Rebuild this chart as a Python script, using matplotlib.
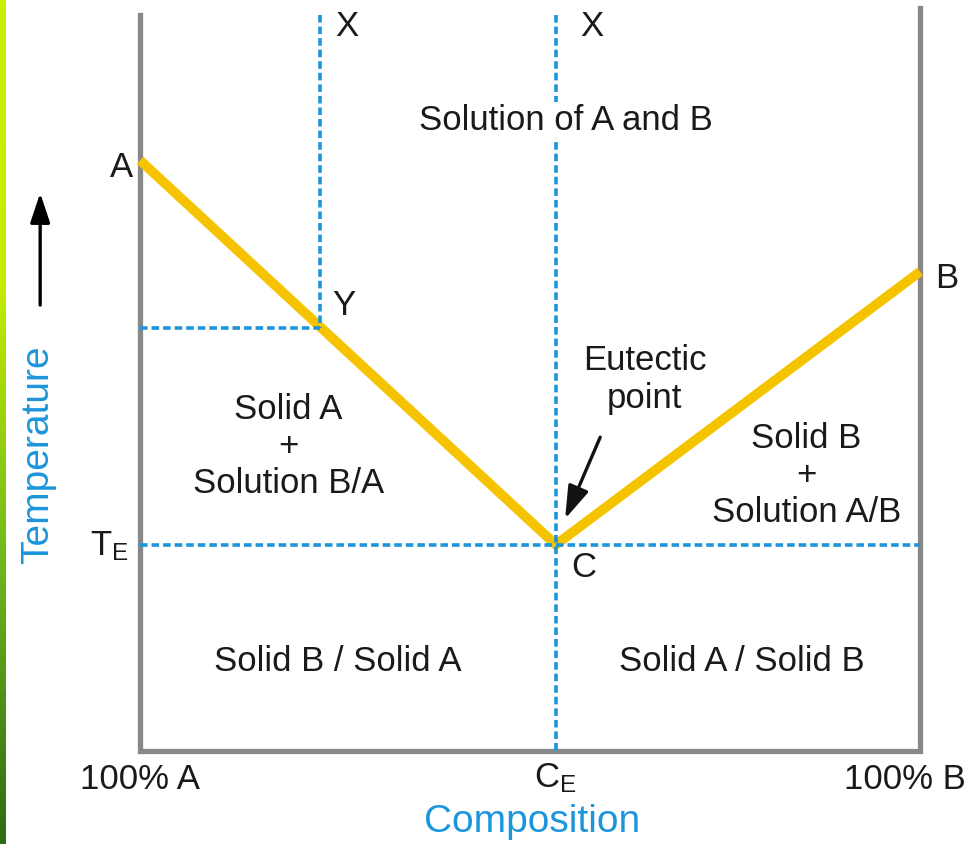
"""
plot.py
Eutectic phase diagram (two component system A / B).
"""

import numpy as np
import matplotlib.pyplot as plt
from matplotlib.colors import LinearSegmentedColormap

plt.rcParams['font.family'] = ['Liberation Sans', 'DejaVu Sans']

# composition in % B (0 = 100% A, 100 = 100% B), temperature in arbitrary units
liquidus_comp = [0, 53.3, 100]
liquidus_temp = [79.6, 27.8, 64.6]

frame_comp = [0, 0, 100, 100]
frame_temp = [99.2, 0, 0, 100.1]

comp_y = 23.1          # composition of melt X that cools to Y
temp_y = 57.0          # temperature at Y
comp_eutectic = 53.3   # C_E
temp_eutectic = 27.8   # T_E
temp_top = 99.2

region_labels = ['Solid A\n+\nSolution B/A', 'Solid B\n+\nSolution A/B',
                 'Solid B / Solid A', 'Solid A / Solid B']

YELLOW = '#F6C300'
GRAY = '#888888'
BLUE = '#1B95DB'
TXT = '#1a1a1a'

fig = plt.figure(figsize=(9.73, 8.44), dpi=100)
ax = fig.add_axes([0, 0, 1, 1])
ax.set_xlim(-17.95, 106.79)
ax.set_ylim(-12.53, 101.21)
ax.axis('off')

# green strip from the slide background
strip = fig.add_axes([0, 0, 6 / 973, 1])
greens = LinearSegmentedColormap.from_list('greens', ['#2f6b12', '#6fb81c', '#c4ec00', '#c8f000'])
grad = np.linspace(0, 1, 100).reshape(-1, 1)
strip.imshow(grad, aspect='auto', cmap=greens, origin='lower', extent=[0, 1, 0, 1])
strip.axis('off')

# frame
ax.plot(frame_comp, frame_temp, color=GRAY, lw=3.8, solid_joinstyle='miter', zorder=2)

# liquidus lines
ax.plot(liquidus_comp, liquidus_temp, color=YELLOW, lw=7.0, solid_capstyle='butt',
        solid_joinstyle='miter', zorder=3)

# dashed guide lines
dash = dict(color=BLUE, lw=2.6, linestyle=(0, (2.1, 1.1)), zorder=4)
ax.plot([comp_y, comp_y], [temp_top, temp_y], **dash)
ax.plot([0, comp_y], [temp_y, temp_y], **dash)
ax.plot([comp_eutectic, comp_eutectic], [temp_top, 0], **dash)
ax.plot([0, 100], [temp_eutectic, temp_eutectic], **dash)

fs = 25
ax.text(-0.9, 78.6, 'A', ha='right', va='center', fontsize=fs, color=TXT)
ax.text(101.9, 63.7, 'B', ha='left', va='center', fontsize=fs, color=TXT)
ax.text(25.0, 97.6, 'X', ha='left', va='center', fontsize=fs, color=TXT)
ax.text(56.4, 97.6, 'X', ha='left', va='center', fontsize=fs, color=TXT)
ax.text(24.7, 60.0, 'Y', ha='left', va='center', fontsize=fs, color=TXT)
ax.text(55.3, 24.7, 'C', ha='left', va='center', fontsize=fs, color=TXT)
ax.text(-1.5, 27.6, r'$\mathregular{T_E}$', ha='right', va='center', fontsize=fs, color=TXT)

ax.text(54.6, 85.0, 'Solution of A and B', ha='center', va='center', fontsize=fs,
        color=TXT, zorder=6,
        bbox=dict(facecolor='white', edgecolor='none', pad=1))
ax.text(64.7, 50.1, 'Eutectic\npoint', ha='center', va='center', fontsize=fs,
        color=TXT, linespacing=1.2)
ax.text(19.0, 41.0, region_labels[0], ha='center', va='center', fontsize=fs,
        color=TXT, linespacing=1.15)
ax.text(85.4, 37.1, region_labels[1], ha='center', va='center', fontsize=fs,
        color=TXT, linespacing=1.15)
ax.text(25.3, 12.0, region_labels[2], ha='center', va='center', fontsize=fs, color=TXT)
ax.text(77.2, 12.0, region_labels[3], ha='center', va='center', fontsize=fs, color=TXT)

# axis labels
ax.text(0, -3.9, '100% A', ha='center', va='center', fontsize=fs, color=TXT)
ax.text(comp_eutectic, -3.6, r'$\mathregular{C_E}$', ha='center', va='center',
        fontsize=fs, color=TXT)
ax.text(98.1, -3.9, '100% B', ha='center', va='center', fontsize=fs, color=TXT)
ax.text(50.3, -9.6, 'Composition', ha='center', va='center', fontsize=28, color=BLUE)
ax.text(-13.1, 39.9, 'Temperature', ha='center', va='center', fontsize=28,
        color=BLUE, rotation=90)

# arrows
ax.annotate('', xy=(-12.8, 75.2), xytext=(-12.8, 60.1),
            arrowprops=dict(arrowstyle='-|>,head_length=1.8,head_width=0.6',
                            color='black', lw=2.4, shrinkA=0, shrinkB=0))
ax.annotate('', xy=(54.5, 31.3), xytext=(59.0, 42.3),
            arrowprops=dict(arrowstyle='-|>,head_length=2.0,head_width=0.65',
                            color='#111111', lw=2.4, shrinkA=0, shrinkB=0))

fig.savefig('out.png', dpi=100)
